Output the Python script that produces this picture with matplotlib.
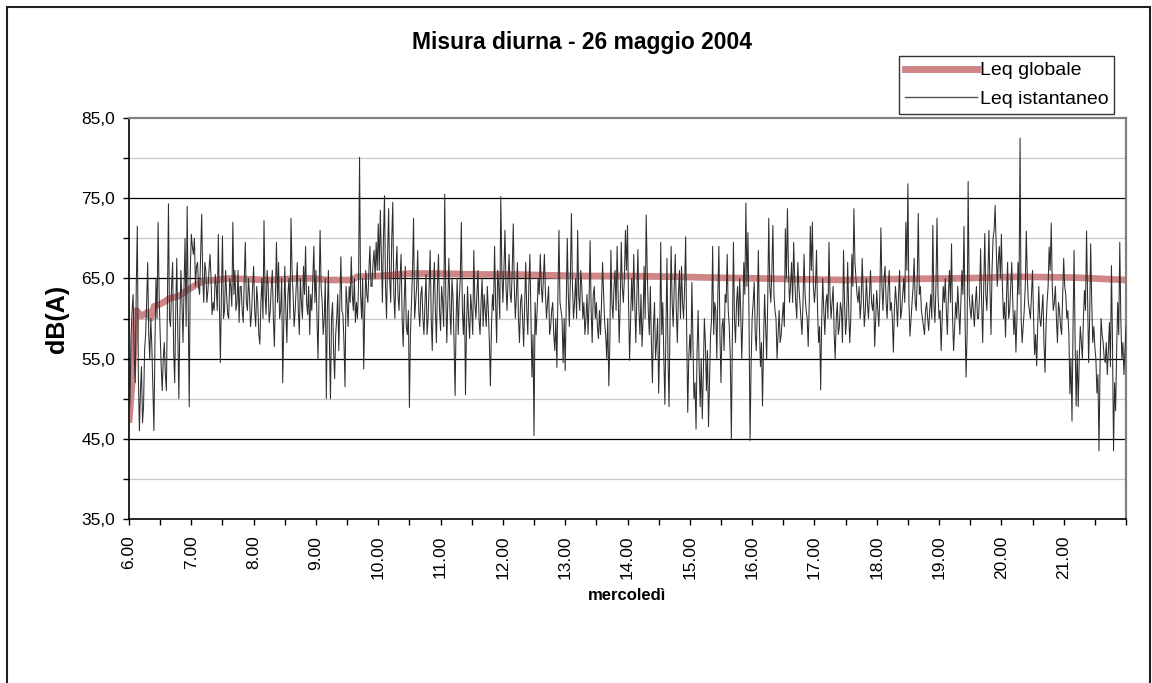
import numpy as np
import matplotlib
matplotlib.use('Agg')
import matplotlib.pyplot as plt
from matplotlib.patches import Rectangle
from matplotlib.lines import Line2D
from matplotlib.ticker import MultipleLocator, FixedLocator

plt.rcParams['font.family'] = ['Liberation Sans', 'DejaVu Sans']

# ---- data: Leq istantaneo, one value per minute from 6.00 ----
# for each hour: values at even minutes (hNN) and at odd minutes (hNNb)
leq_ist_h06 = [47, 58, 63, 52, 71.5, 46, 54, 49, 58, 67, 55, 56.5, 46, 65, 72,
               58, 51, 57, 51, 74.3, 59, 67, 52, 67.5, 50, 66, 57, 70, 74, 49]
leq_ist_h06b = [50, 61, 55, 64, 53, 51, 47, 56, 62, 58, 60, 51, 57, 60, 63,
                54, 55, 53, 62, 60, 64, 56, 61, 58, 60, 62, 64, 59, 61, 66]
leq_ist_h07 = [70.5, 68, 64, 67, 63, 73, 62, 66, 63.5, 68, 60.5, 61, 64, 70.5, 54.5,
               70.3, 61, 63, 60, 64, 72, 66, 62, 59.5, 64, 59.5, 69.5, 61, 63, 60.5]
leq_ist_h07b = [69, 70, 66.5, 64, 68, 65, 67, 62, 66, 65, 62, 65.5, 61, 62, 63,
                60, 66, 60.5, 65, 61.5, 63, 61, 66, 64, 61, 65, 62, 65, 59, 64]
leq_ist_h08 = [66.5, 59, 62, 56.8, 65, 72.2, 60.5, 64, 61, 66, 56.5, 69.5, 67, 61, 52,
               66.5, 57, 65, 72.5, 63, 61, 67, 58, 62, 66.5, 69, 60.5, 58, 61, 69]
leq_ist_h08b = [61, 64, 58, 62, 60, 63, 66, 59.5, 64, 60, 63, 62, 60, 65, 59,
                61, 63, 60, 66, 59, 64, 61, 65, 60, 63, 62, 64, 63, 65, 62]
leq_ist_h09 = [66, 55, 71, 62, 60, 50, 66, 50, 62, 52.5, 60, 56, 67.7, 60.5, 51.5,
               62, 64, 67.7, 61, 59.5, 60, 80.1, 60, 53.7, 66, 62, 69, 64, 68.5, 69.5]
leq_ist_h09b = [60, 63, 64, 58, 65, 61, 57, 60, 56, 58, 63, 62, 61, 57, 64,
                59, 62, 63, 65, 62, 64, 63, 65, 61, 63, 66, 64, 67, 65, 66]
leq_ist_h10 = [71.8, 73.5, 62, 75.3, 60, 73.7, 62, 74.5, 60, 69, 61, 68, 56.5, 66.5, 58,
               48.9, 62, 72.5, 62, 68.5, 59, 64, 58, 65.5, 60, 68.5, 56, 67, 57, 68]
leq_ist_h10b = [66, 68, 70, 64, 68, 65, 70, 63, 66, 63, 65, 60, 62, 59, 61,
                58, 66, 60, 64, 61, 63, 60, 62, 58, 64, 60, 63, 61, 64, 61]
leq_ist_h11 = [58.5, 62, 75.5, 57, 67.5, 58, 62.5, 50.4, 65, 62.5, 72, 58, 50.5, 64, 57.5,
               61, 68.5, 60, 66, 58, 65, 63, 59, 61, 51.6, 63, 69, 57, 64, 75.2]
leq_ist_h11b = [64, 59, 63, 62, 61, 65, 57, 60, 58, 65, 61, 63, 59, 60, 63,
                58, 62, 63, 60, 62, 59, 61, 64, 57, 59, 61, 62, 66, 60, 66]
leq_ist_h12 = [62, 71, 61, 68, 62, 71.8, 60, 67, 57, 63, 56.5, 67, 58, 68, 52.7,
               45.4, 58, 65, 68, 62, 68, 60, 64, 59, 62, 56, 53.9, 71, 61, 54.5]
leq_ist_h12b = [66, 64, 65, 63, 66, 64, 63, 60, 62, 60, 62, 61, 64, 60, 58,
                62, 61, 63, 64, 65, 63, 62, 58, 61, 58, 60, 63, 62, 60, 60]
leq_ist_h13 = [53.5, 70, 59, 73.1, 60, 65, 71, 61, 64, 62, 60, 58, 69.7, 57, 64,
               62, 57.5, 58, 67, 59.5, 55, 51.6, 68.5, 60, 66, 69, 57, 69.5, 62, 71]
leq_ist_h13b = [62, 63, 65, 64, 62, 60, 63, 66, 60, 58, 63, 62, 61, 63, 60,
                59, 61, 62, 63, 58, 60, 57, 62, 64, 61, 63, 62, 64, 65, 66]
leq_ist_h14 = [71.6, 54.8, 65, 68, 57, 68.6, 58, 56.5, 66.5, 72.9, 61, 64, 52, 62, 57,
               50.7, 69.5, 62, 49.3, 67.5, 49, 69, 59, 68, 57, 66, 66.5, 60, 70.2, 48.3]
leq_ist_h14b = [62, 60, 61, 62, 63, 61, 63, 60, 60, 66, 58, 57, 59, 55, 60,
                57, 58, 55, 58, 55, 60, 62, 64, 61, 63, 60, 62, 64, 58, 55]
leq_ist_h15 = [58, 64.5, 50, 46.2, 61, 49, 47.5, 60, 51, 46.5, 58, 69, 62, 55, 69,
               52, 60, 63, 68, 59, 45, 69.5, 57, 64, 65, 55, 67, 74.4, 70.7, 44.8]
leq_ist_h15b = [55, 57, 52, 56, 54, 55, 53, 57, 56, 52, 60, 58, 61, 63, 58,
                59, 56, 62, 61, 55, 58, 60, 62, 59, 61, 60, 63, 64, 60, 54]
leq_ist_h16 = [60, 64.5, 56, 68.5, 54, 49.1, 63, 55, 72.5, 62, 71.6, 61, 55, 61, 58,
               62, 71.2, 73.7, 62, 67, 69.5, 62, 67, 62, 58, 68, 61, 56.5, 71.5, 72]
leq_ist_h16b = [62, 58, 61, 59, 57, 57, 59, 62, 64, 66, 63, 60, 58, 57, 60,
                59, 65, 66, 64, 62, 65, 60, 64, 60, 62, 63, 60, 62, 66, 64]
leq_ist_h17 = [62, 68.5, 57, 51.1, 65, 58, 63, 69.5, 60, 64, 55, 62, 59, 61, 68.5,
               58, 67, 57, 68, 73.7, 65, 62, 60, 67.5, 59, 65, 60, 66, 61, 56.5]
leq_ist_h17b = [64, 61, 59, 60, 61, 62, 60, 63, 62, 58, 60, 58, 62, 57, 62,
                60, 61, 60, 64, 67, 63, 64, 62, 63, 61, 62, 63, 62, 63, 60]
leq_ist_h18 = [63.5, 59, 71.3, 61, 66.5, 60, 66, 62, 55.8, 64, 59, 66, 61, 65, 72,
               76.8, 57.8, 62, 67.5, 61, 73.1, 64, 60, 58, 62, 58.5, 63, 71.6, 59.5, 72.5]
leq_ist_h18b = [61, 63, 64, 65, 62, 64, 61, 60, 61, 62, 63, 60, 63, 62, 66,
                62, 60, 64, 62, 65, 63, 61, 59, 61, 60, 61, 60, 62, 64, 63]
leq_ist_h19 = [60, 56, 64, 65, 58, 66, 69.3, 56, 62, 64, 58, 66, 71.5, 52.7, 77.1,
               61, 63, 59, 64, 60, 68.7, 57, 70.6, 61, 71, 58, 70, 74.1, 64, 69]
leq_ist_h19b = [61, 60, 62, 61, 63, 62, 60, 59, 60, 61, 62, 63, 60, 58, 63,
                60, 61, 62, 60, 63, 62, 64, 63, 65, 64, 66, 71, 69, 67, 65]
leq_ist_h20 = [70.5, 60, 57.7, 67, 61, 67, 58, 55.8, 67, 82.5, 57, 61, 70.9, 62, 60,
               66, 55.5, 54.1, 64, 59, 63, 53.3, 62, 68.9, 71.9, 61, 64, 57, 61, 58]
leq_ist_h20b = [64, 62, 63, 60, 64, 62, 61, 60, 63, 60, 59, 64, 65, 61, 63,
                60, 58, 59, 60, 61, 57, 59, 64, 66, 64, 62, 60, 62, 59, 63]
leq_ist_h21 = [67.5, 63, 61, 50.6, 47.2, 68.5, 49.1, 49, 59, 55, 63.5, 70.9, 54.5, 69.3, 57,
               56.5, 50.7, 43.5, 60, 57, 54.5, 53, 59.5, 66.6, 43.5, 48.5, 62, 69.5, 55, 53, 59]
leq_ist_h21b = [64, 60, 58, 55, 59, 57, 56, 55, 57, 60, 61, 63, 60, 62, 59,
                55, 53, 54, 58, 55, 57, 56, 54, 57, 52, 56, 58, 60, 57, 56]

hour_pairs = [(leq_ist_h06, leq_ist_h06b), (leq_ist_h07, leq_ist_h07b),
              (leq_ist_h08, leq_ist_h08b), (leq_ist_h09, leq_ist_h09b),
              (leq_ist_h10, leq_ist_h10b), (leq_ist_h11, leq_ist_h11b),
              (leq_ist_h12, leq_ist_h12b), (leq_ist_h13, leq_ist_h13b),
              (leq_ist_h14, leq_ist_h14b), (leq_ist_h15, leq_ist_h15b),
              (leq_ist_h16, leq_ist_h16b), (leq_ist_h17, leq_ist_h17b),
              (leq_ist_h18, leq_ist_h18b), (leq_ist_h19, leq_ist_h19b),
              (leq_ist_h20, leq_ist_h20b), (leq_ist_h21, leq_ist_h21b)]
leq_ist = []
for ev, od in hour_pairs:
    for a, b in zip(ev, od):
        leq_ist += [a, b]
    leq_ist += ev[len(od):]
step_minutes = 1
start_hour = 6

# ---- data: Leq globale (running Leq), read at these times (hours) ----
leq_glob_time = [6.0, 6.05, 6.1, 6.12, 6.2, 6.3, 6.35, 6.4, 6.5, 6.55, 6.65, 6.8,
                 6.95, 7.1, 7.2, 7.4, 7.6, 7.9, 8.25, 8.7, 8.95, 9.2, 9.58, 9.66,
                 10.0, 10.5, 11.0, 11.6, 12.1, 12.7, 13.2, 14.0, 14.8, 15.35, 16.1,
                 16.7, 17.5, 18.0, 19.3, 20.3, 21.2, 22.0]
leq_glob = [47, 52, 59, 61, 60.3, 60.8, 60.0, 61.5, 61.8, 62, 62.5, 62.8,
            63.6, 64.3, 64.7, 64.8, 65.0, 64.9, 64.8, 65.0, 65.0, 64.8, 64.8, 65.2,
            65.3, 65.6, 65.6, 65.5, 65.5, 65.4, 65.3, 65.3, 65.2, 65.1, 65.0,
            64.9, 64.8, 64.9, 65.0, 65.2, 65.1, 64.8]

hour_labels = ['6.00', '7.00', '8.00', '9.00', '10.00', '11.00', '12.00', '13.00',
               '14.00', '15.00', '16.00', '17.00', '18.00', '19.00', '20.00', '21.00']
y_major = [35, 45, 55, 65, 75, 85]
y_minor = [40, 50, 60, 70, 80]

W, H = 1152, 683
fig = plt.figure(figsize=(W / 100, H / 100), dpi=100)
fig.patch.set_facecolor('white')

L, R, T, B = 129, 1126, 118, 519
ax = fig.add_axes([L / W, 1 - B / H, (R - L) / W, (B - T) / H])

t_ist = start_hour + np.arange(len(leq_ist)) * step_minutes / 60.0

# gridlines
for y in y_minor:
    ax.axhline(y, color='#c8c8c8', lw=0.9, zorder=0.5)
for y in y_major[1:-1]:
    ax.axhline(y, color='#000000', lw=0.9, zorder=0.6)

ax.plot(leq_glob_time, leq_glob, color='#d08686', lw=4.8, zorder=2,
        solid_capstyle='butt')
ax.plot(t_ist, leq_ist, color='#2e2e2e', lw=0.75, zorder=3)

ax.set_xlim(6, 22)
ax.set_ylim(35, 85)

ax.xaxis.set_major_locator(FixedLocator(list(range(6, 23))))
ax.set_xticklabels(hour_labels + [''], rotation=90, fontsize=12.5)
ax.xaxis.set_minor_locator(MultipleLocator(0.5))
ax.yaxis.set_major_locator(FixedLocator(y_major))
ax.set_yticklabels([f'{v:.1f}'.replace('.', ',') for v in y_major], fontsize=12.5)
ax.yaxis.set_minor_locator(FixedLocator(y_minor))

ax.tick_params(axis='both', which='both', direction='out', length=4, width=1,
               color='#000000')
ax.tick_params(axis='x', which='major', pad=8)
ax.tick_params(axis='y', which='major', pad=6)

for s in ['left', 'bottom']:
    ax.spines[s].set_color('#000000')
    ax.spines[s].set_linewidth(1.2)
for s in ['top', 'right']:
    ax.spines[s].set_color('#808080')
    ax.spines[s].set_linewidth(1.6)

# titles and axis labels
fig.text(582 / W, 1 - 43 / H, 'Misura diurna - 26 maggio 2004', ha='center',
         va='center', fontsize=16.5, fontweight='bold')
fig.text(57 / W, 1 - 319 / H, 'dB(A)', ha='center', va='center', rotation=90,
         fontsize=18, fontweight='bold')
fig.text(627 / W, 1 - 596 / H, 'mercoledì', ha='center', va='center',
         fontsize=12, fontweight='bold')

# legend
handles = [Line2D([], [], color='#d08686', lw=5),
           Line2D([], [], color='#505050', lw=1.0)]
leg = fig.legend(handles, ['Leq globale', 'Leq istantaneo'], loc='upper left',
                 bbox_to_anchor=(899 / W, 1 - 56 / H), bbox_transform=fig.transFigure,
                 frameon=True, fancybox=False, shadow=False, edgecolor='black',
                 fontsize=14, handlelength=3.7, handletextpad=0.15, borderpad=0.3,
                 labelspacing=0.55, borderaxespad=0)
leg.get_frame().set_linewidth(1.0)

# outer chart border
fig.add_artist(Rectangle((7 / W, -0.05), (1150 - 7) / W, 1 - 7 / H + 0.05,
                         transform=fig.transFigure, fill=False, ec='#202020',
                         lw=1.5))

fig.savefig('out.png', dpi=100, facecolor='white')
